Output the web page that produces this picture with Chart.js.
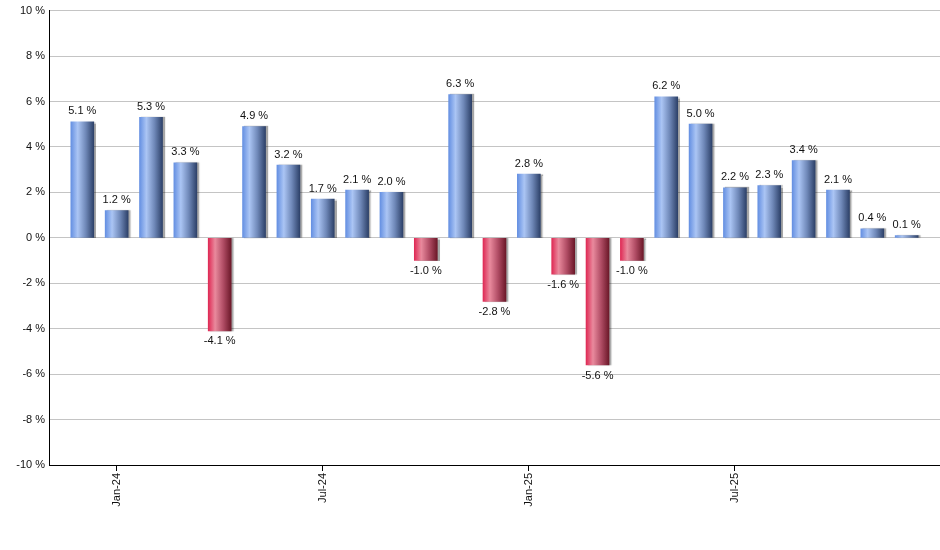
<!DOCTYPE html>
<html><head><meta charset="utf-8">
<script src="https://cdn.jsdelivr.net/npm/chart.js@4.4.1/dist/chart.umd.min.js"></script>
<style>html,body{margin:0;padding:0;background:#fff}#wrap{width:940px;height:550px;position:relative}</style>
</head><body><div id="wrap"><canvas id="c"></canvas></div>
<script>
const months = ['Dec-23','Jan-24','Feb-24','Mar-24','Apr-24','May-24','Jun-24','Jul-24','Aug-24','Sep-24','Oct-24','Nov-24','Dec-24',
  'Jan-25','Feb-25','Mar-25','Apr-25','May-25','Jun-25','Jul-25','Aug-25','Sep-25','Oct-25','Nov-25','Dec-25'];
const returns = [5.1,1.2,5.3,3.3,-4.1,4.9,3.2,1.7,2.1,2.0,-1.0,6.3,-2.8,2.8,-1.6,-5.6,-1.0,6.2,5.0,2.2,2.3,3.4,2.1,0.4,0.1];
const tickMonths = ['Jan-24','Jul-24','Jan-25','Jul-25'];
const yMin = -10, yMax = 10, yStep = 2;

const BAR_W = 23;
const FONT = "'Liberation Sans', Arial, sans-serif";

function barGradient(c){
  const ch = c.chart;
  const v = returns[c.dataIndex];
  if(!ch.chartArea || !ch.scales.x) return v >= 0 ? '#7fa3e8' : '#d84566';
  const cx = ch.scales.x.getPixelForValue(c.dataIndex);
  const g = ch.ctx.createLinearGradient(cx - BAR_W/2, 0, cx + BAR_W/2, 0);
  if(v >= 0){
    g.addColorStop(0, '#6590e2');
    g.addColorStop(0.3, '#abc5f4');
    g.addColorStop(0.65, '#6f88b8');
    g.addColorStop(1, '#2d4169');
  } else {
    g.addColorStop(0, '#df2a55');
    g.addColorStop(0.3, '#e98a9d');
    g.addColorStop(0.65, '#b14d65');
    g.addColorStop(1, '#6c1829');
  }
  return g;
}

const effects = {
  id: 'effects',
  beforeDatasetsDraw(chart){
    const ctx = chart.ctx;
    ctx.save();
    ctx.shadowColor = 'rgba(0,0,0,0.35)';
    ctx.shadowOffsetX = 2;
    ctx.shadowOffsetY = 0;
    ctx.shadowBlur = 1;
  },
  afterDatasetsDraw(chart){
    const ctx = chart.ctx;
    ctx.restore();
    ctx.save();
    ctx.font = '11px ' + FONT;
    ctx.fillStyle = '#111';
    ctx.textAlign = 'center';
    const meta = chart.getDatasetMeta(0);
    meta.data.forEach((bar, i) => {
      const v = returns[i];
      const txt = v.toFixed(1) + ' %';
      if(v >= 0){
        ctx.textBaseline = 'bottom';
        ctx.fillText(txt, bar.x, bar.y - 5);
      } else {
        ctx.textBaseline = 'top';
        ctx.fillText(txt, bar.x, bar.y + 5);
      }
    });
    ctx.restore();
  }
};

new Chart(document.getElementById('c'), {
  type: 'bar',
  data: {
    datasets: [{
      data: returns.map((v, i) => ({x: i, y: v})),
      backgroundColor: barGradient,
      borderWidth: 0,
      barThickness: BAR_W
    }]
  },
  options: {
    responsive: true,
    maintainAspectRatio: false,
    animation: false,
    layout: {padding: {top: 9, right: 0, left: 0, bottom: 0}},
    plugins: {legend: {display: false}, tooltip: {enabled: false}},
    scales: {
      x: {
        type: 'linear',
        min: -0.97,
        max: 24.97,
        offset: false,
        afterBuildTicks: axis => { axis.ticks = tickMonths.map(m => ({value: months.indexOf(m)})); },
        afterFit: s => { s.height = 85; },
        grid: {offset: false, drawOnChartArea: false, drawTicks: true, tickLength: 6, color: '#000'},
        border: {display: true, color: '#000', width: 1},
        ticks: {
          autoSkip: false, minRotation: 90, maxRotation: 90, padding: 2,
          color: '#111', font: {family: FONT, size: 11},
          callback: v => months[v]
        }
      },
      y: {
        min: yMin, max: yMax,
        afterFit: s => { s.width = 49; },
        grid: {color: '#c4c4c4', drawTicks: false},
        border: {display: true, color: '#000', width: 1},
        ticks: {
          stepSize: yStep, padding: 4,
          color: '#111', font: {family: FONT, size: 11},
          callback: v => v + ' %'
        }
      }
    }
  },
  plugins: [effects]
});
</script></body></html>
